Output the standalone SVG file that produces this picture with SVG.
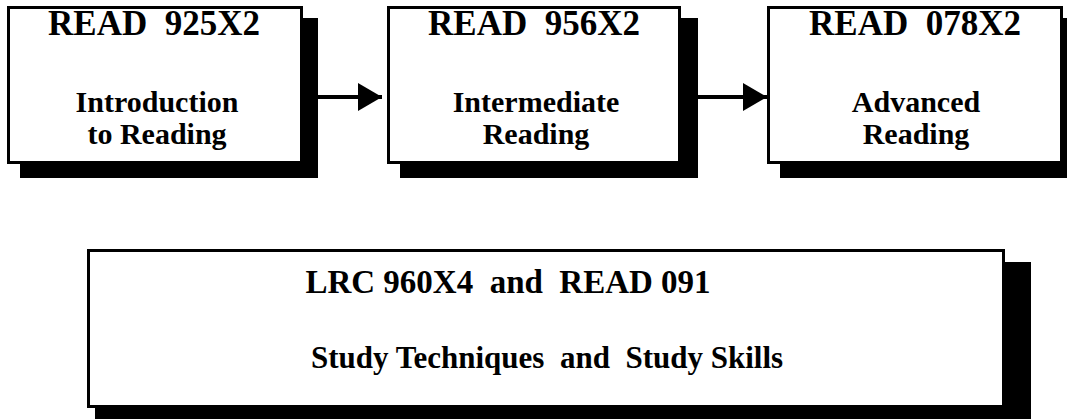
<svg xmlns="http://www.w3.org/2000/svg" width="1067" height="419" viewBox="0 0 1067 419">
<style>
.box{fill:#fff;stroke:#000;stroke-width:3}
.sh{fill:#000}
.t{font-family:"Liberation Serif","Times New Roman",serif;font-weight:bold;fill:#000;text-anchor:middle;white-space:pre}
.h{font-size:35px}
.s{font-size:30px}
.conn{stroke:#000;stroke-width:4;fill:none}
</style>
<defs>
<marker id="ah" markerUnits="userSpaceOnUse" markerWidth="24" markerHeight="28" refX="24" refY="14" orient="auto">
<path d="M0,0 L24,14 L0,28 Z" fill="#000"/>
</marker>
</defs>
<g id="node1">
<rect class="sh" x="20" y="18" width="298" height="160"/>
<rect class="box" x="8.5" y="7.5" width="293" height="155"/>
<text class="t h" x="154" y="35" xml:space="preserve">READ  925X2</text>
<text class="t s" x="157" y="112">Introduction</text>
<text class="t s" x="157" y="144">to Reading</text>
</g>
<g id="node2">
<rect class="sh" x="400" y="18" width="298" height="160"/>
<rect class="box" x="388.5" y="7.5" width="291" height="155"/>
<text class="t h" x="534" y="35" xml:space="preserve">READ  956X2</text>
<text class="t s" x="536" y="112">Intermediate</text>
<text class="t s" x="536" y="144">Reading</text>
</g>
<g id="node3">
<rect class="sh" x="780" y="18" width="290" height="160"/>
<rect class="box" x="768.5" y="7.5" width="293" height="155"/>
<text class="t h" x="915" y="35" xml:space="preserve">READ  078X2</text>
<text class="t s" x="916" y="112">Advanced</text>
<text class="t s" x="916" y="144">Reading</text>
</g>
<g id="node4">
<rect class="sh" x="95" y="262" width="936" height="160"/>
<rect class="box" x="88.5" y="250.5" width="915" height="156"/>
<text class="t" style="font-size:33px" x="508" y="293" xml:space="preserve">LRC 960X4  and  READ 091</text>
<text class="t" style="font-size:31px" x="547" y="368" xml:space="preserve">Study Techniques  and  Study Skills</text>
</g>
<g id="connectors">
<line class="conn" x1="318" y1="97" x2="382" y2="97" marker-end="url(#ah)"/>
<line class="conn" x1="698" y1="97" x2="767" y2="97" marker-end="url(#ah)"/>
</g>
</svg>
